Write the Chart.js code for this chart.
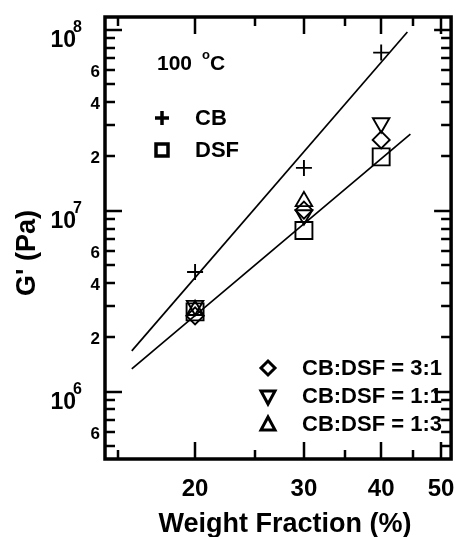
<!DOCTYPE html>
<html>
<head>
<meta charset="utf-8">
<script src="https://cdn.jsdelivr.net/npm/chart.js@4/dist/chart.umd.min.js"></script>
<style>
  html, body { margin: 0; padding: 0; background: #fff; }
  #wrap { width: 465px; height: 537px; }
</style>
</head>
<body>
<div id="wrap"><canvas id="chart" width="465" height="537"></canvas></div>
<script>
// Data (weight fraction %, G' in Pa)
const weightFractions = [20, 30, 40];
const cbValues = [4.6e6, 1.73e7, 7.5e7];
const dsfValues = [2.77e6, 7.8e6, 1.99e7];
const ratio31Values = [2.63e6, 1.01e7, 2.47e7];
const ratio11Values = [3.0e6, 9.5e6, 3.06e7];
const ratio13Values = [2.83e6, 1.13e7, null];

// Fit lines (end points)
const cbFitX = [15.8, 44.1];
const cbFitY = [1.685e6, 9.75e7];
const dsfFitX = [15.8, 44.6];
const dsfFitY = [1.34e6, 2.66e7];

// Axis ticks
const xMajorTicks = [20, 30, 40, 50];
const xMinorTicks = [15, 25, 35, 45];
const yMajorTicks = [1e6, 1e7, 1e8];
const yMinorTicks = [5e5, 6e5, 7e5, 8e5, 9e5, 2e6, 3e6, 4e6, 5e6, 6e6, 7e6, 8e6, 9e6,
                     2e7, 3e7, 4e7, 5e7, 6e7, 7e7, 8e7, 9e7];
const yMinorLabelled = [6e5, 2e6, 4e6, 6e6, 2e7, 4e7, 6e7];

const FONT = '"Liberation Sans", Arial, sans-serif';

function toPoints(xs, ys) {
    return xs.map((x, i) => ({ x: x, y: ys[i] })).filter(p => p.y !== null);
}

function markerSet(label, values, style, radius, rotation) {
    return {
        label: label,
        data: toPoints(weightFractions, values),
        pointStyle: style,
        pointRadius: radius,
        pointRotation: rotation || 0,
        pointBorderColor: '#000',
        pointBackgroundColor: 'rgba(0,0,0,0)',
        pointBorderWidth: 1.9,
        showLine: false
    };
}

// Draws the frame, inward ticks, labels and legends
const framePlugin = {
    id: 'frame',
    afterDraw(chart) {
        const ctx = chart.ctx;
        const xs = chart.scales.x;
        const ys = chart.scales.y;
        const a = chart.chartArea;
        ctx.save();
        ctx.strokeStyle = '#000';
        ctx.fillStyle = '#000';

        // ticks
        ctx.lineWidth = 2.5;
        ctx.beginPath();
        const xTick = (v, len) => {
            const px = Math.round(xs.getPixelForValue(v));
            ctx.moveTo(px, a.bottom); ctx.lineTo(px, a.bottom - len);
            ctx.moveTo(px, a.top); ctx.lineTo(px, a.top + len);
        };
        const yTick = (v, len) => {
            const py = Math.round(ys.getPixelForValue(v));
            ctx.moveTo(a.left, py); ctx.lineTo(a.left + len, py);
            ctx.moveTo(a.right, py); ctx.lineTo(a.right - len, py);
        };
        xMajorTicks.forEach(v => xTick(v, 17));
        xMinorTicks.forEach(v => xTick(v, 9));
        yMajorTicks.forEach(v => yTick(v, 17));
        yMinorTicks.forEach(v => yTick(v, 10));
        ctx.stroke();

        // frame
        ctx.lineWidth = 3.5;
        ctx.strokeRect(a.left, a.top, a.right - a.left, a.bottom - a.top);

        // x tick labels
        ctx.font = 'bold 24px ' + FONT;
        ctx.textAlign = 'center';
        ctx.textBaseline = 'middle';
        xMajorTicks.forEach(v => {
            ctx.fillText(String(v), xs.getPixelForValue(v), 489);
        });

        // y major labels 10^n
        yMajorTicks.forEach(v => {
            const py = ys.getPixelForValue(v);
            const exp = Math.round(Math.log10(v));
            ctx.font = 'bold 23px ' + FONT;
            ctx.textAlign = 'right';
            ctx.textBaseline = 'alphabetic';
            ctx.fillText('10', 76, py + 17);
            ctx.font = 'bold 16px ' + FONT;
            ctx.textAlign = 'left';
            ctx.fillText(String(exp), 73, py + 2);
        });

        // y minor labels
        ctx.font = 'bold 17px ' + FONT;
        ctx.textAlign = 'right';
        ctx.textBaseline = 'middle';
        yMinorLabelled.forEach(v => {
            const mant = Math.round(v / Math.pow(10, Math.floor(Math.log10(v) + 1e-9)));
            ctx.fillText(String(mant), 100, ys.getPixelForValue(v) + 2);
        });

        // axis titles
        ctx.font = 'bold 27px ' + FONT;
        ctx.textAlign = 'center';
        ctx.textBaseline = 'middle';
        ctx.fillText('Weight Fraction (%)', 285, 525);
        ctx.save();
        ctx.translate(28, 253);
        ctx.rotate(-Math.PI / 2);
        ctx.fillText("G' (Pa)", 0, 0);
        ctx.restore();

        // temperature note
        ctx.textAlign = 'left';
        ctx.font = 'bold 21px ' + FONT;
        ctx.fillText('100', 157, 64);
        ctx.font = 'bold 13px ' + FONT;
        ctx.fillText('o', 202, 55);
        ctx.font = 'bold 21px ' + FONT;
        ctx.fillText('C', 210, 64);

        // legend symbols
        ctx.lineWidth = 3.5;
        ctx.lineJoin = 'miter';
        // plus
        ctx.beginPath();
        ctx.moveTo(155, 118); ctx.lineTo(169, 118);
        ctx.moveTo(162, 111); ctx.lineTo(162, 125);
        ctx.stroke();
        // square
        ctx.strokeRect(156, 144, 12, 12);
        // diamond
        ctx.lineWidth = 3;
        ctx.beginPath();
        ctx.moveTo(268, 361); ctx.lineTo(275, 368); ctx.lineTo(268, 375); ctx.lineTo(261, 368);
        ctx.closePath(); ctx.stroke();
        // down triangle
        ctx.beginPath();
        ctx.moveTo(261, 391); ctx.lineTo(275, 391); ctx.lineTo(268, 404);
        ctx.closePath(); ctx.stroke();
        // up triangle
        ctx.beginPath();
        ctx.moveTo(268, 417); ctx.lineTo(275, 430); ctx.lineTo(261, 430);
        ctx.closePath(); ctx.stroke();

        ctx.font = 'bold 22px ' + FONT;
        ctx.textAlign = 'left';
        ctx.textBaseline = 'middle';
        ctx.fillText('CB', 195, 119);
        ctx.fillText('DSF', 195, 151);
        ctx.fillText('CB:DSF = 3:1', 302, 369);
        ctx.fillText('CB:DSF = 1:1', 302, 397);
        ctx.fillText('CB:DSF = 1:3', 302, 425);
        ctx.restore();
    }
};

new Chart(document.getElementById('chart').getContext('2d'), {
    type: 'scatter',
    data: {
        datasets: [
            {
                label: 'CB fit',
                data: toPoints(cbFitX, cbFitY),
                showLine: true,
                borderColor: '#000',
                borderWidth: 1.7,
                pointRadius: 0
            },
            {
                label: 'DSF fit',
                data: toPoints(dsfFitX, dsfFitY),
                showLine: true,
                borderColor: '#000',
                borderWidth: 1.7,
                pointRadius: 0
            },
            markerSet('CB', cbValues, 'cross', 8),
            markerSet('DSF', dsfValues, 'rect', 12),
            markerSet('CB:DSF = 3:1', ratio31Values, 'rectRot', 8.5),
            markerSet('CB:DSF = 1:1', ratio11Values, 'triangle', 9.5, 180),
            markerSet('CB:DSF = 1:3', ratio13Values, 'triangle', 9.5)
        ]
    },
    options: {
        responsive: false,
        animation: false,
        events: [],
        layout: { padding: { left: 105, top: 17, right: 3, bottom: 78 } },
        plugins: {
            legend: { display: false },
            tooltip: { enabled: false }
        },
        scales: {
            x: {
                type: 'logarithmic',
                min: 14.3,
                max: 51.9,
                display: false
            },
            y: {
                type: 'logarithmic',
                min: 4.26e5,
                max: 1.18e8,
                display: false
            }
        }
    },
    plugins: [framePlugin]
});
</script>
</body>
</html>
